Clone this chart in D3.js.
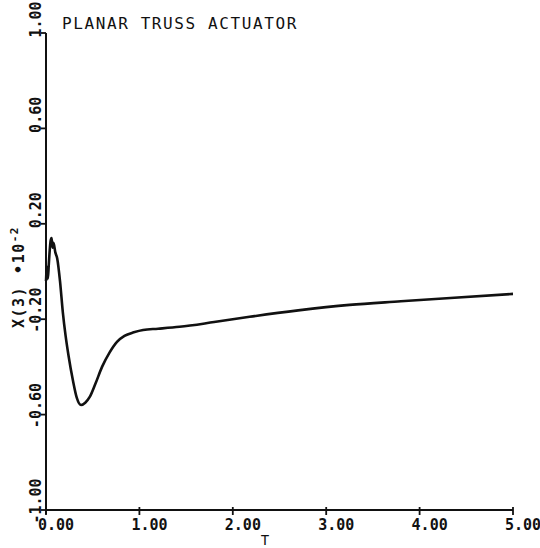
<!DOCTYPE html>
<html>
<head>
<meta charset="utf-8">
<script src="https://cdn.jsdelivr.net/npm/d3@7"></script>
<style>
  body { margin: 0; background: #fff; }
  text { font-family: "DejaVu Sans Mono", monospace; fill: #111; }
</style>
</head>
<body>
<div id="chart"></div>
<script>
// values (X(3) in units of 1e-2)
var timeValues = [0.00, 0.01, 0.02, 0.03, 0.04, 0.05, 0.06, 0.07, 0.08, 0.10, 0.12, 0.15, 0.18, 0.21, 0.24, 0.29, 0.33, 0.375,
                  0.42, 0.47, 0.53, 0.60, 0.68, 0.76, 0.84, 0.94, 1.04, 1.20, 1.43, 1.80, 2.18, 2.70, 3.25, 3.80, 4.33, 5.00];
var x3Values   = [-0.04, 0.02, -0.03, 0.03, 0.09, 0.13, 0.14, 0.10, 0.12, 0.08, 0.055, -0.04, -0.17, -0.27, -0.35, -0.46, -0.53, -0.56,
                  -0.55, -0.525, -0.47, -0.40, -0.34, -0.295, -0.27, -0.255, -0.245, -0.240, -0.232, -0.212, -0.190, -0.163, -0.140, -0.125, -0.111, -0.094];
var xTicks = [0, 1, 2, 3, 4, 5];
var xTickLabels = ["0.00", "1.00", "2.00", "3.00", "4.00", "5.00"];
var yTicks = [1.0, 0.6, 0.2, -0.2, -0.6, -1.0];
var yTickLabels = ["1.00", "0.60", "0.20", "-0.20", "-0.60", "-1.00"];

var width = 540, height = 548;

var svg = d3.select("#chart").append("svg")
    .attr("width", width)
    .attr("height", height);

var x = d3.scaleLinear().domain([0, 5]).range([46, 513]);
var y = d3.scaleLinear().domain([-1, 1]).range([510, 33]);

// axis lines
svg.append("line")
    .attr("x1", x(0)).attr("x2", x(5))
    .attr("y1", y(-1)).attr("y2", y(-1))
    .attr("stroke", "#111").attr("stroke-width", 2);
svg.append("line")
    .attr("x1", x(0)).attr("x2", x(0))
    .attr("y1", y(-1) + 4).attr("y2", y(1))
    .attr("stroke", "#111").attr("stroke-width", 2);

// x ticks + labels
svg.selectAll(".xtick").data(xTicks).enter().append("line")
    .attr("class", "xtick")
    .attr("x1", d => x(d)).attr("x2", d => x(d))
    .attr("y1", y(-1) - 3).attr("y2", y(-1) + 5)
    .attr("stroke", "#111").attr("stroke-width", 1.8);

svg.selectAll(".xlab").data(xTicks).enter().append("text")
    .attr("class", "xlab")
    .attr("x", d => x(d) - 8)
    .attr("y", 530)
    .attr("font-size", 15)
    .attr("font-weight", "bold")
    .text((d, i) => xTickLabels[i]);

// y ticks + labels (digit before the point sits on the tick)
svg.selectAll(".ytick").data(yTicks).enter().append("line")
    .attr("class", "ytick")
    .attr("x1", x(0) - 5).attr("x2", x(0))
    .attr("y1", d => y(d)).attr("y2", d => y(d))
    .attr("stroke", "#111").attr("stroke-width", 1.8);

var cw = 0.602 * 15;
svg.selectAll(".ylab").data(yTicks).enter().append("text")
    .attr("class", "ylab")
    .attr("transform", d => "translate(41," + y(d) + ") rotate(-90)")
    .attr("x", (d, i) => -(yTickLabels[i].indexOf(".") - 0.5) * cw)
    .attr("font-size", 15)
    .attr("font-weight", "bold")
    .text((d, i) => yTickLabels[i]);

// axis titles
var ylab = svg.append("text")
    .attr("transform", "translate(24,328) rotate(-90)")
    .attr("font-size", 15)
    .attr("font-weight", "bold")
    .attr("letter-spacing", 1.5);
ylab.append("tspan").text("X(3)");
ylab.append("tspan").attr("dx", 12).text("\u202210");
ylab.append("tspan").attr("dy", -6).attr("font-size", 11).text("-2");

svg.append("text")
    .attr("x", 265).attr("y", 545)
    .attr("text-anchor", "middle")
    .attr("font-size", 14)
    .text("T");

svg.append("text")
    .attr("x", 62).attr("y", 29)
    .attr("font-size", 16)
    .attr("letter-spacing", 1.6)
    .text("PLANAR TRUSS ACTUATOR");

// response curve
var data = timeValues.map((t, i) => ({t: t, v: x3Values[i]}));
svg.append("path")
    .datum(data)
    .attr("fill", "none")
    .attr("stroke", "#111")
    .attr("stroke-width", 2.6)
    .attr("stroke-linejoin", "round")
    .attr("d", d3.line()
        .curve(d3.curveMonotoneX)
        .x(d => x(d.t))
        .y(d => y(d.v)));
</script>
</body>
</html>
